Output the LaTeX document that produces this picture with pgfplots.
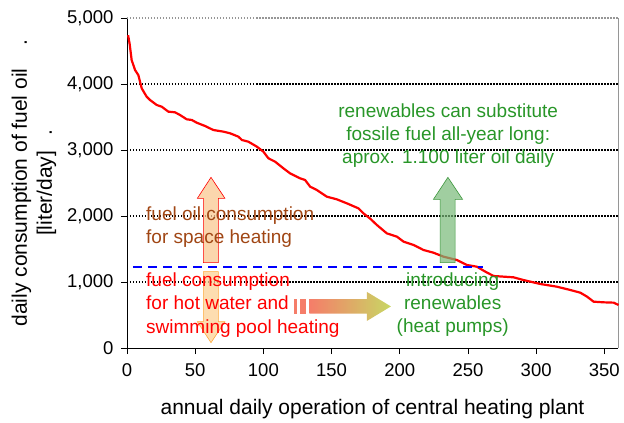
\documentclass[border=0pt]{standalone}
\usepackage{pgfplots}
\pgfplotsset{compat=1.18}
\usepackage{fontspec}
\setmainfont{Liberation Sans}
\definecolor{cgreen}{RGB}{40,150,40}
\definecolor{cbrown}{RGB}{160,70,20}
\definecolor{cupfill}{RGB}{250,200,145}
\definecolor{cdownfill}{RGB}{252,210,150}
\definecolor{cdownline}{RGB}{255,170,60}
\definecolor{cgrad1}{RGB}{245,125,105}
\definecolor{cgrad2}{RGB}{200,215,100}
\definecolor{carrowgreen}{RGB}{120,185,120}
\definecolor{carrowgreenline}{RGB}{60,150,60}
\definecolor{cgrid}{RGB}{150,150,150}
\begin{document}
\begin{tikzpicture}
\begin{axis}[
  scale only axis, width=491pt, height=330pt,
  xmin=0, xmax=360, ymin=0, ymax=5000,
  axis x line*=bottom, axis y line*=left,
  xtick={0,50,...,350}, ytick={0,1000,...,5000},
  tick align=outside, major tick length=6pt,
  tick style={black, line width=0.8pt},
  axis line style={black, line width=0.9pt},
  ticklabel style={font=\fontsize{18.5}{22}\selectfont},
  xticklabel style={yshift=-6pt},
  yticklabel style={xshift=-4pt},
  /pgf/number format/1000 sep={,},
  /pgf/number format/assume math mode=true,
  xlabel={annual daily operation of central heating plant},
  ylabel={daily consumption of fuel oil\hspace{1.1em}.\\{}[liter/day]\hspace{0.7em}.},
  ylabel style={align=center, yshift=4pt},
  xlabel style={yshift=-16pt},
  label style={font=\fontsize{21}{25}\selectfont},
  clip=false,
]
\pgfplotsinvokeforeach{1000,2000,3000,4000}{
  \draw[black, line width=1.2pt, dash pattern=on 1.5pt off 1.5pt] (axis cs:0,#1) -- (axis cs:360,#1);
}
\draw[cgrid, line width=1.2pt, dash pattern=on 1.5pt off 1.5pt] (axis cs:0,5000) -- (axis cs:360,5000);
\draw[cgrid, line width=0.9pt] (axis cs:360,0) -- (axis cs:360,5000);

\addplot[red, line width=2.2pt, line join=round] coordinates {
(0.8,4740) (2,4600) (3.4,4364) (5.9,4212) (8.3,4136) (10.8,3934) (14.4,3808)
(16.9,3757) (21.8,3682) (25.5,3656) (30.3,3581) (35.2,3571) (38.9,3530)
(43.8,3465) (47.5,3455) (51.1,3414) (57.2,3364) (63.3,3303) (70.7,3278)
(75.6,3253) (81.7,3202) (84.2,3152) (89,3126) (95.2,3051) (100,2975)
(103.7,2874) (108.6,2823) (114.7,2722) (119.6,2646) (126.9,2571) (130.6,2545)
(134.3,2444) (139.2,2394) (146.5,2293) (153.8,2253) (161.2,2192) (169.7,2116)
(173.4,2040) (178.3,1960) (183.2,1864) (190.5,1737) (197.9,1687) (202.8,1611)
(210.1,1561) (217.4,1485) (224.7,1444) (232.1,1384) (241.9,1333) (249.2,1258)
(256.5,1232) (262.7,1157) (268.8,1091) (276.1,1081) (283.4,1071) (290.7,1030)
(303,970) (315.2,929) (325,879) (332.4,838) (337.3,778) (342.1,702)
(349.5,692) (356.8,687) (360.4,652)
};

\addplot[blue, line width=1.8pt, dash pattern=on 9pt off 6pt] coordinates {(4.4,1222) (261,1222)};

% orange up arrow
\filldraw[draw=red, fill=cupfill, fill opacity=0.75, line width=0.6pt]
 (axis cs:56,1293) -- (axis cs:56,2268) -- (axis cs:51.6,2268) -- (axis cs:61.6,2586)
 -- (axis cs:71.8,2268) -- (axis cs:67,2268) -- (axis cs:67,1293) -- cycle;
% orange down arrow
\filldraw[draw=cdownline, fill=cdownfill, fill opacity=0.75, line width=0.6pt]
 (axis cs:56,1157) -- (axis cs:56,399) -- (axis cs:51.6,399) -- (axis cs:61.6,81)
 -- (axis cs:71.8,399) -- (axis cs:67,399) -- (axis cs:67,1157) -- cycle;
% green up arrow
\filldraw[draw=carrowgreenline, fill=carrowgreen, fill opacity=0.7, line width=0.6pt]
 (axis cs:229.6,1293) -- (axis cs:229.6,2253) -- (axis cs:224.7,2253) -- (axis cs:235.3,2586)
 -- (axis cs:246,2253) -- (axis cs:240.6,2253) -- (axis cs:240.6,1293) -- cycle;
% gradient right arrow
\fill[cgrad1] (axis cs:122.5,520) rectangle (axis cs:124.9,740);
\fill[cgrad1] (axis cs:126.9,520) rectangle (axis cs:131.3,740);
\shade[left color=cgrad1, right color=cgrad2]
 (axis cs:133.7,520) -- (axis cs:133.7,740) -- (axis cs:175.9,740) -- (axis cs:175.9,850)
 -- (axis cs:193.5,630) -- (axis cs:175.9,410) -- (axis cs:175.9,520) -- cycle;

% texts
\node[cgreen, align=center, font=\fontsize{19}{23}\selectfont] at (axis cs:235.5,3212)
 {renewables can substitute\\fossile fuel all-year long:\\aprox. 1.100 liter oil daily};
\node[cbrown, align=left, anchor=west, font=\fontsize{19}{23}\selectfont] at (axis cs:11.5,1826)
 {fuel oil consumption\\for space heating};
\node[red, align=left, anchor=west, font=\fontsize{19}{23.5}\selectfont] at (axis cs:11.5,652)
 {fuel consumption\\for hot water and\\swimming pool heating};
\node[cgreen, align=center, font=\fontsize{19}{23}\selectfont] at (axis cs:238.8,652)
 {introducing\\renewables\\(heat pumps)};
\end{axis}
\pgfresetboundingbox
\path[use as bounding box] (-127pt,-75pt) rectangle (497pt,348pt);
\end{tikzpicture}
\end{document}
